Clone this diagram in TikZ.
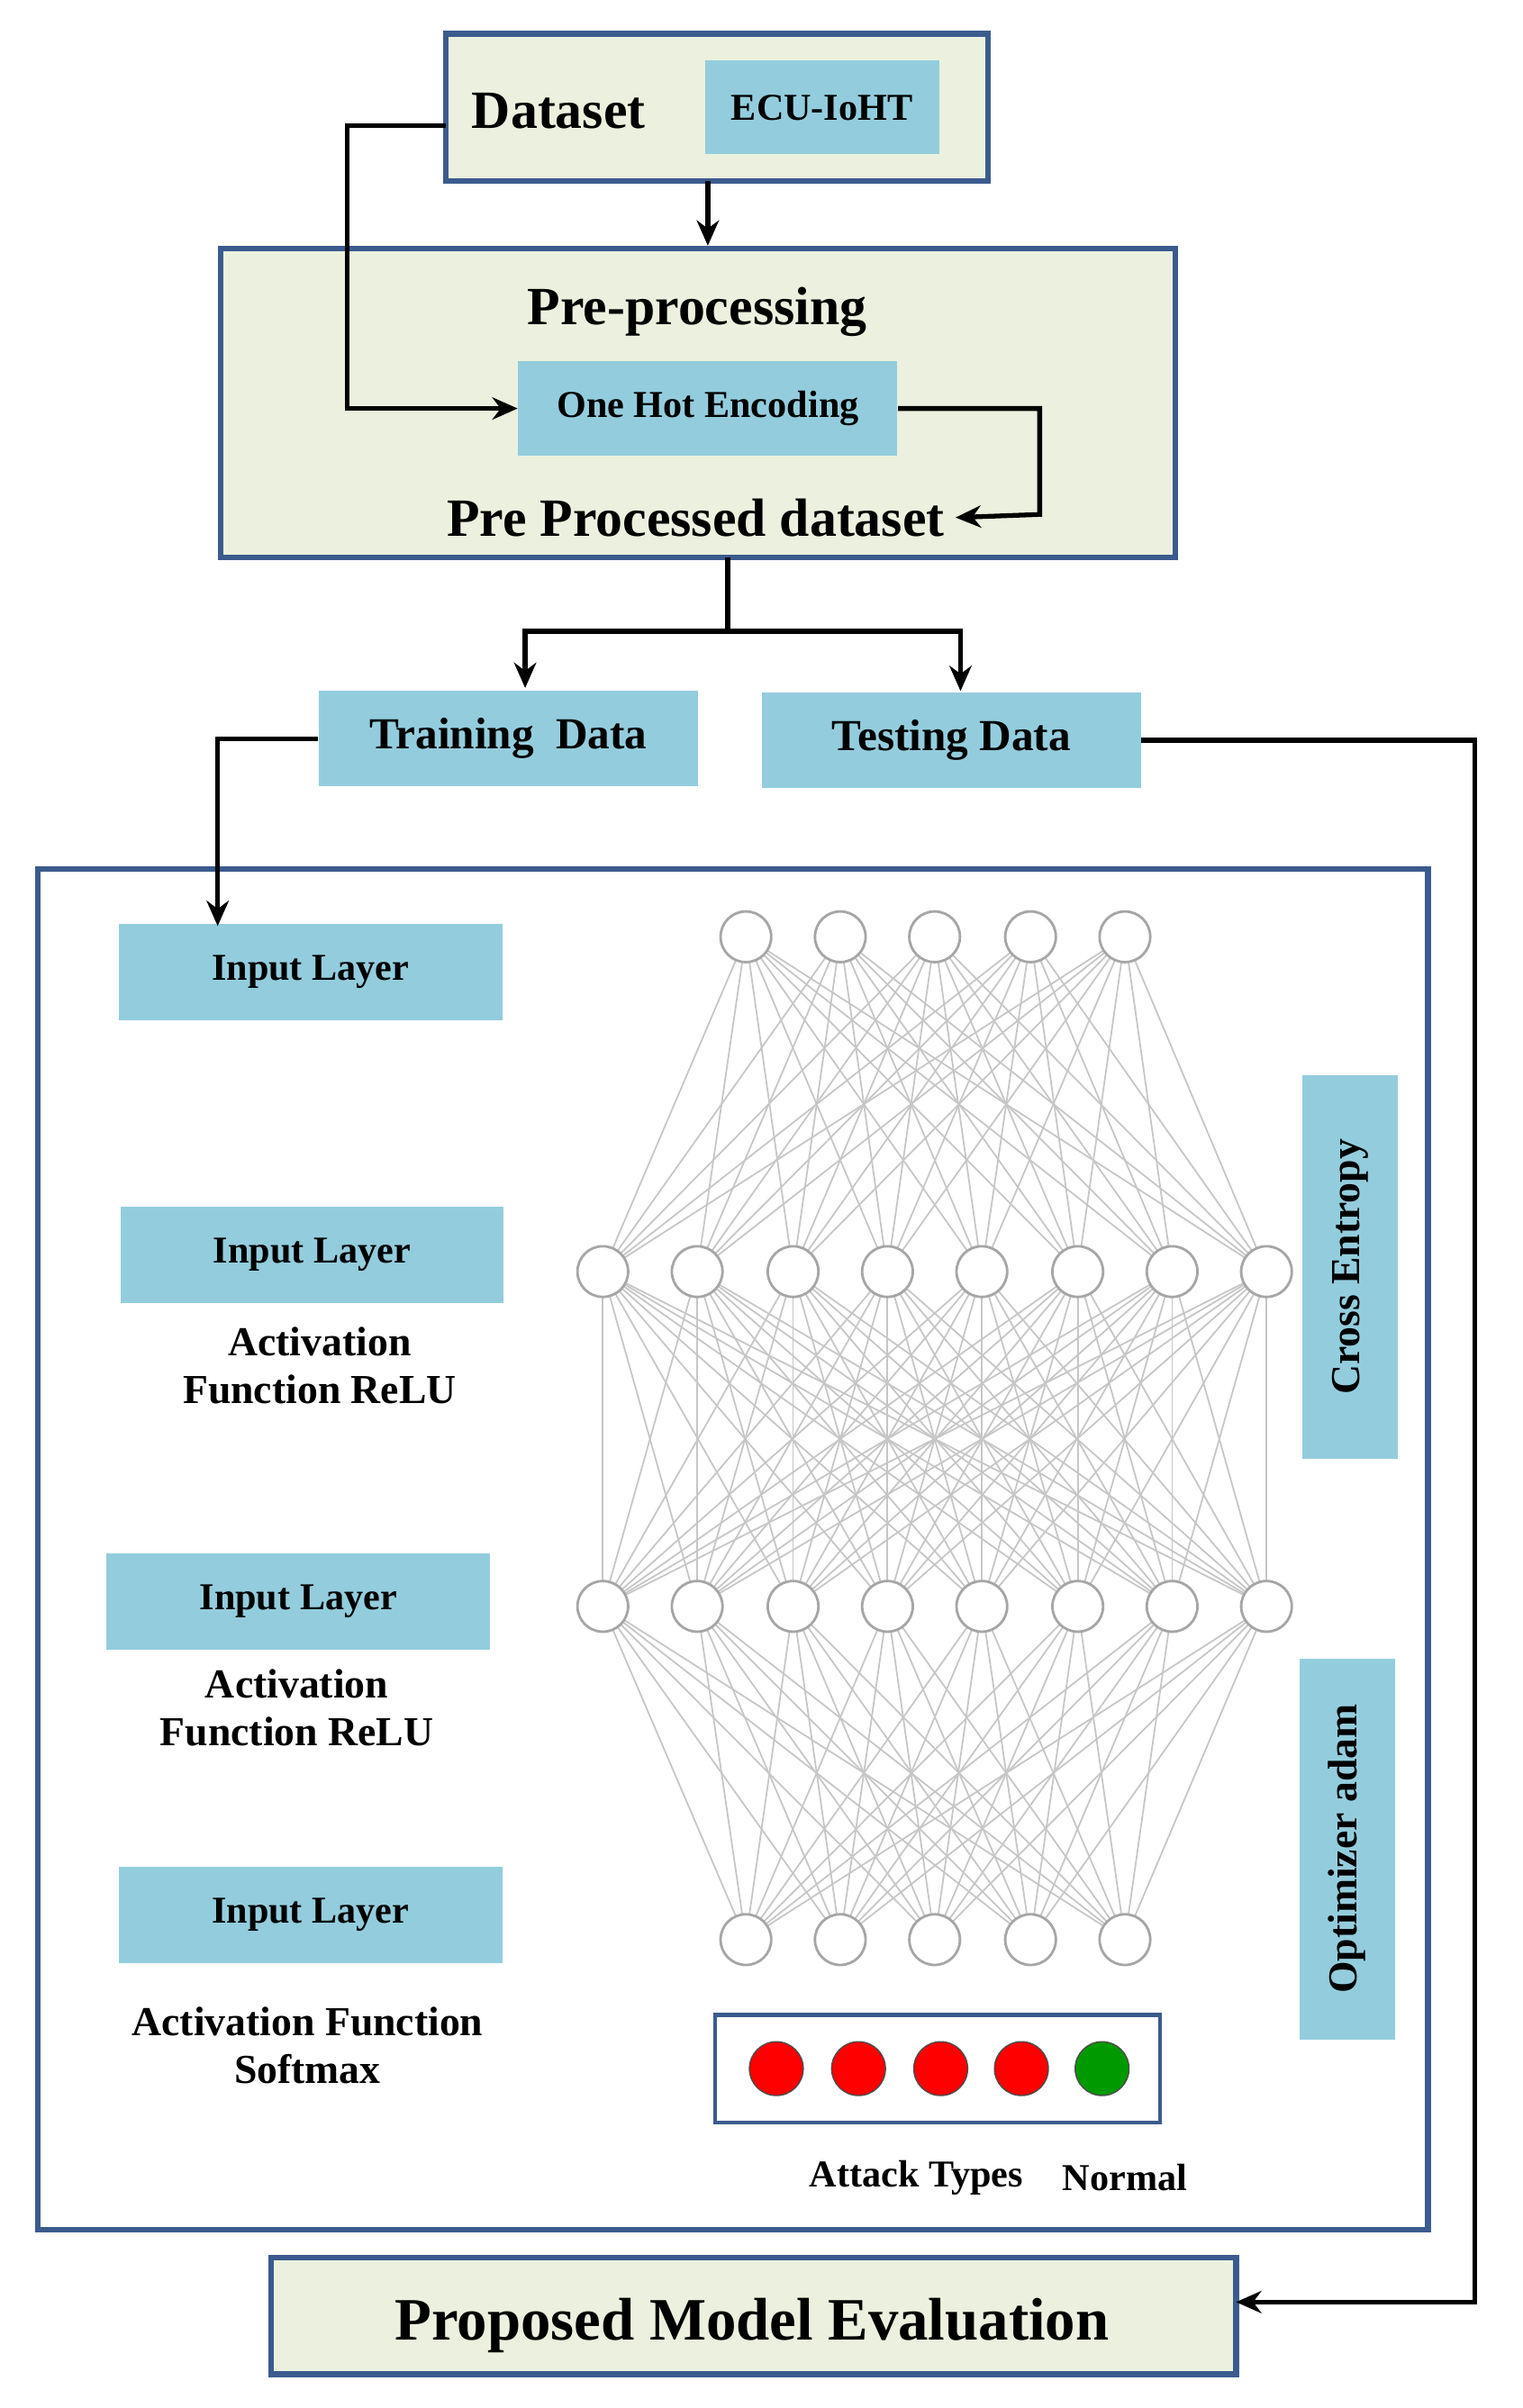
\documentclass[tikz,border=0pt]{standalone}
\usepackage{fontspec}
\setmainfont{Liberation Serif}
\usetikzlibrary{positioning,arrows.meta}
\definecolor{boxfill}{HTML}{EBF1DE}
\definecolor{boxline}{HTML}{3B5B8E}
\definecolor{lblue}{HTML}{93CDDD}
\tikzset{
  frame/.style={draw=boxline, line width=1.8pt, fill=boxfill},
  tag/.style={fill=lblue, font=\bfseries\fontsize{12}{14}\selectfont},
  txt/.style={font=\bfseries\fontsize{13}{15}\selectfont, align=center},
  neuron/.style={circle, draw=gray!70, fill=white, line width=0.8pt, minimum size=16pt, inner sep=0pt},
  link/.style={gray!45, line width=0.5pt},
  flow/.style={line width=1.5pt, -{Stealth[length=8pt,width=7pt]}},
}
\begin{document}
\begin{tikzpicture}[x=0.01689cm, y=-0.01705cm]
\useasboundingbox (0,0) rectangle (1000,1568);

% boxes
\draw[frame] (293,22) rectangle (649,118);
\node[font=\bfseries\fontsize{17}{20}\selectfont] (dataset) at (367,72) {Dataset};
\node[tag, minimum width=154*0.01689cm, minimum height=61*0.01705cm] (ecu) at (540,70) {ECU-IoHT};

\draw[frame] (145,162) rectangle (772,363);
\node[font=\bfseries\fontsize{17}{20}\selectfont] (pre) at (458,203) {Pre-processing};
\node[tag, minimum width=249*0.01689cm, minimum height=62*0.01705cm] (ohe) at (465,266) {One Hot Encoding};
\node[font=\bfseries\fontsize{17}{20}\selectfont] (ppd) at (457,337) {Pre Processed dataset};

\node[tag, font=\bfseries\fontsize{14}{16}\selectfont, minimum width=249*0.01689cm, minimum height=62*0.01705cm] (train) at (334,481) {Training~~Data};
\node[tag, font=\bfseries\fontsize{14}{16}\selectfont, minimum width=249*0.01689cm, minimum height=62*0.01705cm] (test) at (625,482) {Testing Data};

\draw[draw=boxline, line width=1.8pt, fill=white] (25,566) rectangle (938,1452);

% layer tags
\foreach \n/\x/\y in {1/204/633, 2/205/817, 3/196/1043, 4/204/1247}
  \node[tag, minimum width=252*0.01689cm, minimum height=63*0.01705cm] (tag-\n) at (\x,\y) {Input Layer};
\node[txt] (act1) at (210,889) {Activation\\Function ReLU};
\node[txt] (act2) at (195,1112) {Activation\\Function ReLU};
\node[txt] (act3) at (202,1332) {Activation Function\\Softmax};

\node[tag, rotate=90, font=\bfseries\fontsize{13}{15}\selectfont, minimum width=250*0.01705cm, minimum height=63*0.01689cm] (ce) at (887,825) {Cross Entropy};
\node[tag, rotate=90, font=\bfseries\fontsize{13}{15}\selectfont, minimum width=248*0.01705cm, minimum height=63*0.01689cm] (opt) at (885,1204) {Optimizer adam};

% network links first
\foreach \x [count=\i] in {490,552,614,677,739} {
  \coordinate (l1-\i) at (\x,610);
  \coordinate (l4-\i) at (\x,1263);
}
\foreach \x [count=\i] in {396,458,521,583,645,708,770,832} {
  \coordinate (l2-\i) at (\x,828);
  \coordinate (l3-\i) at (\x,1046);
}
\foreach \i in {1,...,5}
  \foreach \j in {1,...,8} {
    \draw[link] (l1-\i) -- (l2-\j);
    \draw[link] (l3-\j) -- (l4-\i);
  }
\foreach \i in {1,...,8}
  \foreach \j in {1,...,8}
    \draw[link] (l2-\i) -- (l3-\j);
% neurons
\foreach \i in {1,...,5} {
  \node[neuron] (n1-\i) at (l1-\i) {};
  \node[neuron] (n4-\i) at (l4-\i) {};
}
\foreach \i in {1,...,8} {
  \node[neuron] (n2-\i) at (l2-\i) {};
  \node[neuron] (n3-\i) at (l3-\i) {};
}

% outputs
\draw[draw=boxline, line width=1.2pt] (470,1312) rectangle (762,1382);
\foreach \x [count=\i] in {510,564,618,671}
  \node[circle, draw=gray!60!black, fill=red, minimum size=17pt, inner sep=0pt] (out-\i) at (\x,1347) {};
\node[circle, draw=gray!60!black, fill=green!60!black, minimum size=17pt, inner sep=0pt] (out-5) at (724,1347) {};
\node[font=\bfseries\fontsize{12}{14}\selectfont] (attack) at (602,1418) {Attack Types};
\node[font=\bfseries\fontsize{12}{14}\selectfont] (normal) at (739,1418) {Normal};

\draw[frame] (178,1470) rectangle (812,1546);
\node[font=\bfseries\fontsize{19}{22}\selectfont] (eval) at (494,1514) {Proposed Model Evaluation};

% connectors
\coordinate (dsout) at (465,118);
\coordinate (ppin) at (465,160);
\draw[flow] (dsout) -- (ppin);
\coordinate (dsleft) at (293,82);
\coordinate (c1) at (228,266);
\draw[flow] (dsleft) -| (c1) -- (ohe.west);
\coordinate (c2) at (683,335);
\draw[flow] (ohe.east) -| (c2) -- (ppd.east);
\coordinate (ppout) at (478,363);
\coordinate (split) at (478,411);
\coordinate (trin) at (345,448);
\coordinate (tein) at (631,450);
\draw[line width=1.5pt] (ppout) -- (split);
\draw[flow] (split) -| (trin);
\draw[flow] (split) -| (tein);
\coordinate (inin) at (143,603);
\draw[flow] (train.west) -| (inin);
\coordinate (c3) at (969,1499);
\coordinate (evin) at (812,1499);
\draw[flow] (test.east) -| (c3) -- (evin);
\end{tikzpicture}
\end{document}
